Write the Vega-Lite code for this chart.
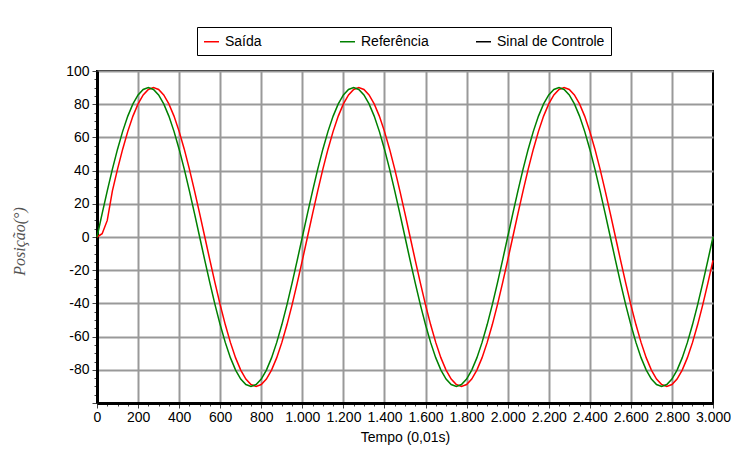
{
 "$schema": "https://vega.github.io/schema/vega-lite/v6.json",
 "width": 616, "height": 332,
 "autosize": {"type": "none"},
 "padding": {"left": 97, "top": 71, "right": 18, "bottom": 56},
 "background": "white",
 "config": {"view": {"stroke": "black", "strokeWidth": 2}, "font": "Liberation Sans"},
 "data": {"values": [
  {"t":0,"Referência":0,"Saída":0},
  {"t":25,"Referência":14.08,"Saída":2},
  {"t":50,"Referência":27.81,"Saída":10},
  {"t":75,"Referência":40.86,"Saída":27.81},
  {"t":100,"Referência":52.9,"Saída":40.86},
  {"t":125,"Referência":63.64,"Saída":52.9},
  {"t":150,"Referência":72.81,"Saída":63.64},
  {"t":175,"Referência":80.19,"Saída":72.81},
  {"t":200,"Referência":85.6,"Saída":80.19},
  {"t":225,"Referência":88.89,"Saída":85.6},
  {"t":250,"Referência":90,"Saída":88.89},
  {"t":275,"Referência":88.89,"Saída":90},
  {"t":300,"Referência":85.6,"Saída":88.89},
  {"t":325,"Referência":80.19,"Saída":85.6},
  {"t":350,"Referência":72.81,"Saída":80.19},
  {"t":375,"Referência":63.64,"Saída":72.81},
  {"t":400,"Referência":52.9,"Saída":63.64},
  {"t":425,"Referência":40.86,"Saída":52.9},
  {"t":450,"Referência":27.81,"Saída":40.86},
  {"t":475,"Referência":14.08,"Saída":27.81},
  {"t":500,"Referência":0,"Saída":14.08},
  {"t":525,"Referência":-14.08,"Saída":0},
  {"t":550,"Referência":-27.81,"Saída":-14.08},
  {"t":575,"Referência":-40.86,"Saída":-27.81},
  {"t":600,"Referência":-52.9,"Saída":-40.86},
  {"t":625,"Referência":-63.64,"Saída":-52.9},
  {"t":650,"Referência":-72.81,"Saída":-63.64},
  {"t":675,"Referência":-80.19,"Saída":-72.81},
  {"t":700,"Referência":-85.6,"Saída":-80.19},
  {"t":725,"Referência":-88.89,"Saída":-85.6},
  {"t":750,"Referência":-90,"Saída":-88.89},
  {"t":775,"Referência":-88.89,"Saída":-90},
  {"t":800,"Referência":-85.6,"Saída":-88.89},
  {"t":825,"Referência":-80.19,"Saída":-85.6},
  {"t":850,"Referência":-72.81,"Saída":-80.19},
  {"t":875,"Referência":-63.64,"Saída":-72.81},
  {"t":900,"Referência":-52.9,"Saída":-63.64},
  {"t":925,"Referência":-40.86,"Saída":-52.9},
  {"t":950,"Referência":-27.81,"Saída":-40.86},
  {"t":975,"Referência":-14.08,"Saída":-27.81},
  {"t":1000,"Referência":0,"Saída":-14.08},
  {"t":1025,"Referência":14.08,"Saída":0},
  {"t":1050,"Referência":27.81,"Saída":14.08},
  {"t":1075,"Referência":40.86,"Saída":27.81},
  {"t":1100,"Referência":52.9,"Saída":40.86},
  {"t":1125,"Referência":63.64,"Saída":52.9},
  {"t":1150,"Referência":72.81,"Saída":63.64},
  {"t":1175,"Referência":80.19,"Saída":72.81},
  {"t":1200,"Referência":85.6,"Saída":80.19},
  {"t":1225,"Referência":88.89,"Saída":85.6},
  {"t":1250,"Referência":90,"Saída":88.89},
  {"t":1275,"Referência":88.89,"Saída":90},
  {"t":1300,"Referência":85.6,"Saída":88.89},
  {"t":1325,"Referência":80.19,"Saída":85.6},
  {"t":1350,"Referência":72.81,"Saída":80.19},
  {"t":1375,"Referência":63.64,"Saída":72.81},
  {"t":1400,"Referência":52.9,"Saída":63.64},
  {"t":1425,"Referência":40.86,"Saída":52.9},
  {"t":1450,"Referência":27.81,"Saída":40.86},
  {"t":1475,"Referência":14.08,"Saída":27.81},
  {"t":1500,"Referência":0,"Saída":14.08},
  {"t":1525,"Referência":-14.08,"Saída":0},
  {"t":1550,"Referência":-27.81,"Saída":-14.08},
  {"t":1575,"Referência":-40.86,"Saída":-27.81},
  {"t":1600,"Referência":-52.9,"Saída":-40.86},
  {"t":1625,"Referência":-63.64,"Saída":-52.9},
  {"t":1650,"Referência":-72.81,"Saída":-63.64},
  {"t":1675,"Referência":-80.19,"Saída":-72.81},
  {"t":1700,"Referência":-85.6,"Saída":-80.19},
  {"t":1725,"Referência":-88.89,"Saída":-85.6},
  {"t":1750,"Referência":-90,"Saída":-88.89},
  {"t":1775,"Referência":-88.89,"Saída":-90},
  {"t":1800,"Referência":-85.6,"Saída":-88.89},
  {"t":1825,"Referência":-80.19,"Saída":-85.6},
  {"t":1850,"Referência":-72.81,"Saída":-80.19},
  {"t":1875,"Referência":-63.64,"Saída":-72.81},
  {"t":1900,"Referência":-52.9,"Saída":-63.64},
  {"t":1925,"Referência":-40.86,"Saída":-52.9},
  {"t":1950,"Referência":-27.81,"Saída":-40.86},
  {"t":1975,"Referência":-14.08,"Saída":-27.81},
  {"t":2000,"Referência":0,"Saída":-14.08},
  {"t":2025,"Referência":14.08,"Saída":0},
  {"t":2050,"Referência":27.81,"Saída":14.08},
  {"t":2075,"Referência":40.86,"Saída":27.81},
  {"t":2100,"Referência":52.9,"Saída":40.86},
  {"t":2125,"Referência":63.64,"Saída":52.9},
  {"t":2150,"Referência":72.81,"Saída":63.64},
  {"t":2175,"Referência":80.19,"Saída":72.81},
  {"t":2200,"Referência":85.6,"Saída":80.19},
  {"t":2225,"Referência":88.89,"Saída":85.6},
  {"t":2250,"Referência":90,"Saída":88.89},
  {"t":2275,"Referência":88.89,"Saída":90},
  {"t":2300,"Referência":85.6,"Saída":88.89},
  {"t":2325,"Referência":80.19,"Saída":85.6},
  {"t":2350,"Referência":72.81,"Saída":80.19},
  {"t":2375,"Referência":63.64,"Saída":72.81},
  {"t":2400,"Referência":52.9,"Saída":63.64},
  {"t":2425,"Referência":40.86,"Saída":52.9},
  {"t":2450,"Referência":27.81,"Saída":40.86},
  {"t":2475,"Referência":14.08,"Saída":27.81},
  {"t":2500,"Referência":0,"Saída":14.08},
  {"t":2525,"Referência":-14.08,"Saída":0},
  {"t":2550,"Referência":-27.81,"Saída":-14.08},
  {"t":2575,"Referência":-40.86,"Saída":-27.81},
  {"t":2600,"Referência":-52.9,"Saída":-40.86},
  {"t":2625,"Referência":-63.64,"Saída":-52.9},
  {"t":2650,"Referência":-72.81,"Saída":-63.64},
  {"t":2675,"Referência":-80.19,"Saída":-72.81},
  {"t":2700,"Referência":-85.6,"Saída":-80.19},
  {"t":2725,"Referência":-88.89,"Saída":-85.6},
  {"t":2750,"Referência":-90,"Saída":-88.89},
  {"t":2775,"Referência":-88.89,"Saída":-90},
  {"t":2800,"Referência":-85.6,"Saída":-88.89},
  {"t":2825,"Referência":-80.19,"Saída":-85.6},
  {"t":2850,"Referência":-72.81,"Saída":-80.19},
  {"t":2875,"Referência":-63.64,"Saída":-72.81},
  {"t":2900,"Referência":-52.9,"Saída":-63.64},
  {"t":2925,"Referência":-40.86,"Saída":-52.9},
  {"t":2950,"Referência":-27.81,"Saída":-40.86},
  {"t":2975,"Referência":-14.08,"Saída":-27.81},
  {"t":3000,"Referência":0,"Saída":-14.08}
 ]},
 "transform": [{"fold": ["Saída", "Referência"], "as": ["serie", "valor"]}],
 "mark": {"type": "line", "strokeWidth": 1.5},
 "encoding": {
  "x": {"field": "t", "type": "quantitative",
   "scale": {"domain": [0, 3000], "nice": false, "zero": false},
   "axis": {
    "values": [0,50,100,150,200,250,300,350,400,450,500,550,600,650,700,750,800,850,900,950,1000,1050,1100,1150,1200,1250,1300,1350,1400,1450,1500,1550,1600,1650,1700,1750,1800,1850,1900,1950,2000,2050,2100,2150,2200,2250,2300,2350,2400,2450,2500,2550,2600,2650,2700,2750,2800,2850,2900,2950,3000],
    "labelExpr": "datum.value % 200 === 0 ? replace(format(datum.value, ','), ',', '.') : ''",
    "labelOverlap": false,
    "labelFontSize": 14, "labelColor": "black", "labelPadding": 2, "labelFlush": false,
    "title": "Tempo (0,01s)", "titleFontSize": 14, "titleFontWeight": "normal", "titleColor": "black", "titlePadding": 6,
    "domainColor": "black", "domainWidth": 3,
    "tickColor": "#444", "tickWidth": 1,
    "tickSize": {"condition": {"test": "datum.value % 200 === 0", "value": 5}, "value": 3},
    "grid": true, "gridColor": "#999", "gridWidth": 2,
    "gridOpacity": {"condition": {"test": "datum.value % 200 === 0 && datum.value > 0 && datum.value < 3000", "value": 1}, "value": 0}
   }},
  "y": {"field": "valor", "type": "quantitative",
   "scale": {"domain": [-100, 100], "nice": false},
   "axis": {
    "values": [-100,-95,-90,-85,-80,-75,-70,-65,-60,-55,-50,-45,-40,-35,-30,-25,-20,-15,-10,-5,0,5,10,15,20,25,30,35,40,45,50,55,60,65,70,75,80,85,90,95,100],
    "labelExpr": "datum.value % 20 === 0 && datum.value > -100 ? datum.value + '' : ''",
    "labelOverlap": false,
    "labelFontSize": 14, "labelColor": "black", "labelPadding": 3,
    "title": "Posição(°)", "titleFont": "Liberation Serif", "titleFontStyle": "italic", "titleFontWeight": "normal",
    "titleFontSize": 16, "titleColor": "#555", "titleX": -78, "titleY": 170, "titleAlign": "center", "titleBaseline": "middle", "titleAngle": -90,
    "domainColor": "black", "domainWidth": 3,
    "tickColor": "#444", "tickWidth": 1,
    "tickSize": {"condition": {"test": "datum.value % 20 === 0", "value": 5}, "value": 3},
    "grid": true, "gridColor": "#999", "gridWidth": 2,
    "gridOpacity": {"condition": {"test": "datum.value % 20 === 0 && datum.value > -100", "value": 1}, "value": 0}
   }},
  "color": {"field": "serie", "type": "nominal",
   "scale": {"domain": ["Saída", "Referência", "Sinal de Controle"], "range": ["#ff0000", "#008000", "#000000"]},
   "legend": {"orient": "none", "legendX": 100, "legendY": -44, "direction": "horizontal", "columns": 3, "gridAlign": "all",
    "columnPadding": 4, "title": null, "symbolType": "stroke", "symbolSize": 225, "symbolStrokeWidth": 1.5,
    "labelFontSize": 14, "labelFont": "Liberation Sans", "labelColor": "black", "labelOffset": 5, "padding": 6,
    "strokeColor": "black", "fillColor": "white"}}
 }
}
